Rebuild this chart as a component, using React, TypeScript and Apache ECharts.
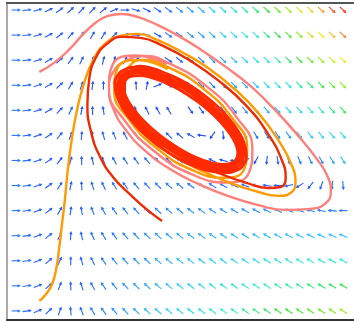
import React, { useEffect, useRef } from "react";
import * as echarts from "echarts";

// Grid of the direction field (x columns, y rows)
const fieldX = [0, 0.1, 0.2, 0.3, 0.4, 0.5, 0.6, 0.7, 0.8, 0.9, 1, 1.1, 1.2, 1.3, 1.4, 1.5, 1.6, 1.7, 1.8, 1.9, 2, 2.1, 2.2, 2.3, 2.4, 2.5, 2.6, 2.7, 2.8, 2.9, 3];
const fieldY = [0, 0.25, 0.5, 0.75, 1, 1.25, 1.5, 1.75, 2, 2.25, 2.5, 2.75, 3];

// x-component of the field, one row per fieldY value
const fieldU = [
  [1.5, 1.18, 0.87, 0.55, 0.24, -0.08, -0.4, -0.71, -1.03, -1.34, -1.66, -1.98, -2.29, -2.61, -2.92, -3.24, -3.56, -3.87, -4.19, -4.5, -4.82, -5.14, -5.45, -5.77, -6.08, -6.4, -6.72, -7.03, -7.35, -7.66, -7.98],
  [1.5, 1.19, 0.88, 0.57, 0.26, -0.03, -0.33, -0.62, -0.91, -1.2, -1.48, -1.76, -2.03, -2.3, -2.57, -2.84, -3.1, -3.35, -3.6, -3.85, -4.1, -4.34, -4.58, -4.82, -5.05, -5.28, -5.5, -5.72, -5.94, -6.15, -6.36],
  [1.5, 1.19, 0.88, 0.58, 0.29, 0.01, -0.27, -0.54, -0.8, -1.05, -1.3, -1.54, -1.77, -2, -2.22, -2.43, -2.63, -2.83, -3.02, -3.2, -3.38, -3.55, -3.71, -3.86, -4.01, -4.15, -4.28, -4.41, -4.53, -4.64, -4.74],
  [1.5, 1.19, 0.89, 0.6, 0.32, 0.06, -0.2, -0.45, -0.68, -0.91, -1.12, -1.32, -1.51, -1.7, -1.87, -2.02, -2.17, -2.31, -2.44, -2.55, -2.66, -2.75, -2.84, -2.91, -2.97, -3.02, -3.07, -3.1, -3.11, -3.12, -3.12],
  [1.5, 1.19, 0.9, 0.62, 0.35, 0.1, -0.14, -0.36, -0.57, -0.76, -0.94, -1.1, -1.26, -1.39, -1.51, -1.62, -1.71, -1.79, -1.86, -1.9, -1.94, -1.96, -1.97, -1.96, -1.94, -1.9, -1.85, -1.78, -1.7, -1.61, -1.5],
  [1.5, 1.19, 0.9, 0.63, 0.38, 0.15, -0.07, -0.27, -0.45, -0.62, -0.76, -0.89, -1, -1.09, -1.16, -1.22, -1.25, -1.27, -1.27, -1.26, -1.22, -1.17, -1.1, -1.01, -0.9, -0.78, -0.63, -0.47, -0.29, -0.1, 0.12],
  [1.5, 1.19, 0.91, 0.65, 0.41, 0.19, -0.01, -0.18, -0.34, -0.47, -0.58, -0.67, -0.74, -0.78, -0.81, -0.81, -0.79, -0.75, -0.69, -0.61, -0.5, -0.37, -0.22, -0.05, 0.14, 0.35, 0.58, 0.84, 1.12, 1.42, 1.74],
  [1.5, 1.2, 0.92, 0.67, 0.44, 0.24, 0.06, -0.09, -0.22, -0.32, -0.4, -0.45, -0.48, -0.48, -0.45, -0.4, -0.33, -0.23, -0.11, 0.04, 0.22, 0.42, 0.65, 0.9, 1.17, 1.48, 1.8, 2.15, 2.53, 2.93, 3.36],
  [1.5, 1.2, 0.93, 0.68, 0.47, 0.28, 0.12, -0.01, -0.11, -0.18, -0.22, -0.23, -0.22, -0.17, -0.1, 0, 0.13, 0.29, 0.48, 0.69, 0.94, 1.21, 1.52, 1.85, 2.21, 2.6, 3.02, 3.47, 3.94, 4.45, 4.98],
  [1.5, 1.2, 0.93, 0.7, 0.5, 0.33, 0.19, 0.08, 0.01, -0.03, -0.04, -0.02, 0.04, 0.13, 0.25, 0.41, 0.59, 0.81, 1.06, 1.34, 1.66, 2.01, 2.39, 2.8, 3.25, 3.73, 4.24, 4.78, 5.35, 5.96, 6.6],
  [1.5, 1.2, 0.94, 0.71, 0.52, 0.37, 0.25, 0.17, 0.12, 0.11, 0.14, 0.2, 0.3, 0.43, 0.6, 0.81, 1.05, 1.33, 1.64, 1.99, 2.38, 2.8, 3.26, 3.75, 4.28, 4.85, 5.45, 6.09, 6.76, 7.47, 8.22],
  [1.5, 1.2, 0.95, 0.73, 0.55, 0.42, 0.32, 0.26, 0.24, 0.26, 0.32, 0.42, 0.56, 0.74, 0.96, 1.22, 1.51, 1.85, 2.23, 2.64, 3.1, 3.6, 4.13, 4.71, 5.32, 5.98, 6.67, 7.4, 8.18, 8.99, 9.84],
  [1.5, 1.21, 0.95, 0.75, 0.58, 0.46, 0.38, 0.35, 0.35, 0.41, 0.5, 0.64, 0.82, 1.04, 1.31, 1.62, 1.97, 2.37, 2.81, 3.29, 3.82, 4.39, 5, 5.66, 6.36, 7.1, 7.89, 8.71, 9.59, 10.5, 11.46],
];

// y-component of the field, one row per fieldY value
const fieldV = [
  [0, 0.19, 0.38, 0.58, 0.77, 0.96, 1.15, 1.34, 1.54, 1.73, 1.92, 2.11, 2.3, 2.5, 2.69, 2.88, 3.07, 3.26, 3.46, 3.65, 3.84, 4.03, 4.22, 4.42, 4.61, 4.8, 4.99, 5.18, 5.38, 5.57, 5.76],
  [0, 0.19, 0.38, 0.56, 0.74, 0.92, 1.09, 1.27, 1.43, 1.6, 1.76, 1.92, 2.07, 2.23, 2.37, 2.52, 2.66, 2.8, 2.94, 3.07, 3.2, 3.33, 3.45, 3.57, 3.69, 3.8, 3.91, 4.02, 4.12, 4.22, 4.32],
  [0, 0.19, 0.37, 0.55, 0.72, 0.88, 1.04, 1.19, 1.33, 1.47, 1.6, 1.72, 1.84, 1.96, 2.06, 2.16, 2.25, 2.34, 2.42, 2.49, 2.56, 2.62, 2.68, 2.72, 2.76, 2.8, 2.83, 2.85, 2.87, 2.88, 2.88],
  [0, 0.19, 0.36, 0.53, 0.69, 0.84, 0.98, 1.11, 1.23, 1.34, 1.44, 1.53, 1.61, 1.68, 1.75, 1.8, 1.84, 1.88, 1.9, 1.92, 1.92, 1.92, 1.9, 1.88, 1.84, 1.8, 1.75, 1.68, 1.61, 1.53, 1.44],
  [0, 0.19, 0.36, 0.52, 0.67, 0.8, 0.92, 1.03, 1.13, 1.21, 1.28, 1.34, 1.38, 1.41, 1.43, 1.44, 1.43, 1.41, 1.38, 1.34, 1.28, 1.21, 1.13, 1.03, 0.92, 0.8, 0.67, 0.52, 0.36, 0.19, 0],
  [0, 0.18, 0.35, 0.5, 0.64, 0.76, 0.86, 0.95, 1.02, 1.08, 1.12, 1.14, 1.15, 1.14, 1.12, 1.08, 1.02, 0.95, 0.86, 0.76, 0.64, 0.5, 0.35, 0.18, 0, -0.2, -0.42, -0.65, -0.9, -1.16, -1.44],
  [0, 0.18, 0.35, 0.49, 0.61, 0.72, 0.81, 0.87, 0.92, 0.95, 0.96, 0.95, 0.92, 0.87, 0.81, 0.72, 0.61, 0.49, 0.35, 0.18, 0, -0.2, -0.42, -0.66, -0.92, -1.2, -1.5, -1.81, -2.15, -2.51, -2.88],
  [0, 0.18, 0.34, 0.48, 0.59, 0.68, 0.75, 0.8, 0.82, 0.82, 0.8, 0.76, 0.69, 0.6, 0.49, 0.36, 0.2, 0.03, -0.17, -0.4, -0.64, -0.91, -1.2, -1.51, -1.84, -2.2, -2.58, -2.98, -3.4, -3.85, -4.32],
  [0, 0.18, 0.33, 0.46, 0.56, 0.64, 0.69, 0.72, 0.72, 0.69, 0.64, 0.56, 0.46, 0.33, 0.18, 0, -0.2, -0.44, -0.69, -0.97, -1.28, -1.61, -1.97, -2.36, -2.76, -3.2, -3.66, -4.15, -4.66, -5.2, -5.76],
  [0, 0.18, 0.33, 0.45, 0.54, 0.6, 0.63, 0.64, 0.61, 0.56, 0.48, 0.37, 0.23, 0.06, -0.13, -0.36, -0.61, -0.9, -1.21, -1.55, -1.92, -2.32, -2.75, -3.2, -3.69, -4.2, -4.74, -5.31, -5.91, -6.54, -7.2],
  [0, 0.18, 0.32, 0.43, 0.51, 0.56, 0.58, 0.56, 0.51, 0.43, 0.32, 0.18, 0, -0.21, -0.45, -0.72, -1.02, -1.36, -1.73, -2.13, -2.56, -3.02, -3.52, -4.05, -4.61, -5.2, -5.82, -6.48, -7.17, -7.89, -8.64],
  [0, 0.17, 0.31, 0.42, 0.49, 0.52, 0.52, 0.48, 0.41, 0.3, 0.16, -0.02, -0.23, -0.48, -0.76, -1.08, -1.43, -1.82, -2.25, -2.71, -3.2, -3.73, -4.29, -4.89, -5.53, -6.2, -6.91, -7.65, -8.42, -9.23, -10.08],
  [0, 0.17, 0.31, 0.4, 0.46, 0.48, 0.46, 0.4, 0.31, 0.17, 0, -0.21, -0.46, -0.75, -1.08, -1.44, -1.84, -2.28, -2.76, -3.28, -3.84, -4.44, -5.07, -5.74, -6.45, -7.2, -7.99, -8.81, -9.68, -10.58, -11.52],
];

// Trajectories
const pinkPath = [
  [0.212, 2.383], [0.347, 2.473], [0.482, 2.602], [0.608, 2.752], [0.725, 2.871], [0.842, 2.941], [0.968, 2.961],
  [1.113, 2.931], [1.275, 2.861], [1.473, 2.752], [1.698, 2.602], [1.923, 2.433], [2.149, 2.243], [2.374, 2.004],
  [2.581, 1.755], [2.752, 1.525], [2.86, 1.336], [2.887, 1.186], [2.833, 1.067], [2.698, 1.017], [2.482, 1.007],
  [2.212, 1.057], [1.941, 1.147], [1.671, 1.266], [1.41, 1.416], [1.185, 1.595], [1.005, 1.805], [0.887, 2.024],
  [0.851, 2.223], [0.896, 2.393], [1.005, 2.493], [1.167, 2.542], [1.399, 2.47], [1.742, 2.244], [2.023, 1.93],
  [2.167, 1.611], [2.134, 1.374], [1.933, 1.281], [1.619, 1.358], [1.276, 1.584], [0.995, 1.898], [0.851, 2.217],
  [0.884, 2.454], [1.085, 2.547], [1.38, 2.46],
];

const orangePath = [
  [0.212, 0.1], [0.275, 0.169], [0.329, 0.269], [0.365, 0.409], [0.392, 0.608], [0.419, 0.857], [0.446, 1.107],
  [0.473, 1.406], [0.509, 1.705], [0.554, 1.984], [0.626, 2.283], [0.716, 2.522], [0.824, 2.672], [0.95, 2.742],
  [1.113, 2.762], [1.293, 2.702], [1.518, 2.582], [1.761, 2.423], [2.014, 2.203], [2.23, 1.964], [2.41, 1.695],
  [2.527, 1.456], [2.563, 1.286], [2.518, 1.176], [2.41, 1.147], [2.221, 1.186], [1.986, 1.266], [1.725, 1.386],
  [1.473, 1.525], [1.248, 1.695], [1.077, 1.894], [0.977, 2.104], [0.959, 2.283], [1.023, 2.423], [1.149, 2.502],
  [1.401, 2.425], [1.72, 2.213], [1.983, 1.921], [2.119, 1.628], [2.091, 1.411], [1.907, 1.328], [1.617, 1.403],
  [1.298, 1.615], [1.035, 1.907], [0.899, 2.2], [0.927, 2.417], [1.111, 2.5], [1.39, 2.41],
];

const redPath = [
  [1.338, 0.897], [1.203, 1.007], [1.05, 1.157], [0.887, 1.336], [0.77, 1.535], [0.689, 1.775], [0.653, 2.054],
  [0.671, 2.323], [0.734, 2.532], [0.833, 2.662], [0.968, 2.732], [1.14, 2.722], [1.347, 2.642], [1.599, 2.493],
  [1.86, 2.293], [2.113, 2.044], [2.311, 1.765], [2.437, 1.505], [2.473, 1.326], [2.428, 1.236], [2.311, 1.226],
  [2.113, 1.276], [1.878, 1.366], [1.635, 1.486], [1.401, 1.635], [1.203, 1.815], [1.059, 2.024], [0.995, 2.213],
  [1.032, 2.363], [1.131, 2.443], [1.373, 2.368],
];

// The dense band the trajectories wind onto (four turns)
const bandPath = [
  [1.373, 2.368], [1.53, 2.289], [1.685, 2.182], [1.828, 2.057], [1.949, 1.922], [2.04, 1.786], [2.096, 1.657], [2.111, 1.545],
  [2.085, 1.458], [2.019, 1.401], [1.92, 1.379], [1.792, 1.392], [1.645, 1.44], [1.488, 1.519], [1.333, 1.626], [1.19, 1.751],
  [1.069, 1.886], [0.978, 2.022], [0.922, 2.151], [0.907, 2.263], [0.933, 2.35], [0.999, 2.407], [1.098, 2.429], [1.226, 2.416],
  [1.371, 2.338], [1.521, 2.259], [1.669, 2.157], [1.807, 2.037], [1.925, 1.908], [2.014, 1.78], [2.069, 1.659], [2.085, 1.556],
  [2.063, 1.475], [2.003, 1.424], [1.909, 1.405], [1.788, 1.422], [1.647, 1.47], [1.497, 1.549], [1.349, 1.651], [1.211, 1.771],
  [1.093, 1.9], [1.004, 2.028], [0.949, 2.149], [0.933, 2.252], [0.955, 2.333], [1.015, 2.384], [1.109, 2.403], [1.23, 2.386],
  [1.369, 2.308], [1.511, 2.232], [1.654, 2.133], [1.787, 2.018], [1.901, 1.896], [1.987, 1.775], [2.042, 1.662], [2.06, 1.565],
  [2.04, 1.492], [1.984, 1.447], [1.896, 1.432], [1.781, 1.451], [1.649, 1.5], [1.507, 1.576], [1.364, 1.675], [1.231, 1.79],
  [1.117, 1.912], [1.031, 2.033], [0.976, 2.146], [0.958, 2.243], [0.978, 2.316], [1.034, 2.361], [1.122, 2.376], [1.237, 2.357],
  [1.366, 2.279], [1.502, 2.203], [1.638, 2.108], [1.766, 1.999], [1.876, 1.883], [1.96, 1.769], [2.015, 1.664], [2.034, 1.575],
  [2.018, 1.509], [1.968, 1.469], [1.885, 1.46], [1.778, 1.481], [1.652, 1.529], [1.516, 1.605], [1.38, 1.7], [1.252, 1.809],
  [1.142, 1.925], [1.058, 2.039], [1.003, 2.144], [0.984, 2.233], [1.0, 2.299], [1.05, 2.339], [1.133, 2.348], [1.24, 2.327],
  [1.366, 2.279],
];

const speedColors = ["#2040ff", "#2a86ff", "#30d0ff", "#30f0c8", "#30e848", "#90f020", "#f0f020", "#ffa030", "#ff3020"];

export default function App() {
  const ref = useRef<HTMLDivElement>(null);
  useEffect(() => {
    if (!ref.current) return;
    const chart = echarts.init(ref.current, null, { renderer: "svg" });
    const arrows: number[][] = [];
    fieldY.forEach((y, j) => {
      fieldX.forEach((x, i) => {
        const u = fieldU[j][i];
        const v = fieldV[j][i];
        arrows.push([x, y, u, v, Math.hypot(u, v)]);
      });
    });
    const axisOff = { axisLabel: { show: false }, axisTick: { show: false }, splitLine: { show: false } };
    const lineSeries = (data: number[][], color: string, width: number, z: number) => ({
      type: "line",
      data,
      smooth: true,
      showSymbol: false,
      symbol: "none",
      z,
      lineStyle: { color, width },
      silent: true,
    });
    chart.setOption({
      animation: false,
      grid: { left: 7, top: 2.5, width: 353.5, height: 317.5, containLabel: false },
      xAxis: [
        { type: "value", min: -0.085, max: 3.1, position: "bottom", axisLine: { show: true, onZero: false, lineStyle: { color: "#333", width: 2 } }, ...axisOff },
        { type: "value", min: -0.085, max: 3.1, position: "top", axisLine: { show: true, onZero: false, lineStyle: { color: "#555", width: 2 } }, ...axisOff },
      ],
      yAxis: { type: "value", min: -0.0905, max: 3.075, axisLine: { show: true, onZero: false, lineStyle: { color: "#aaa", width: 2 } }, ...axisOff },
      visualMap: {
        show: false,
        type: "continuous",
        seriesIndex: 0,
        dimension: 4,
        min: 0,
        max: 15.5,
        inRange: { color: speedColors },
      },
      series: [
        {
          type: "custom",
          data: arrows,
          encode: { x: 0, y: 1 },
          z: 1,
          silent: true,
          renderItem: (params: any, api: any) => {
            const x = api.value(0);
            const y = api.value(1);
            const u = api.value(2);
            const v = api.value(3);
            if (Math.hypot(u, v) < 1e-6) return null;
            const c = api.coord([x, y]);
            const s = api.size([1, 1]);
            let ux = u * s[0];
            let uy = -v * s[1];
            const n = Math.hypot(ux, uy);
            ux /= n;
            uy /= n;
            const half = 4.6;
            const hl = 3.2;
            const hw = 1.7;
            const tx = c[0] - ux * half;
            const ty = c[1] - uy * half;
            const px = c[0] + ux * half;
            const py = c[1] + uy * half;
            const bx = px - ux * hl;
            const by = py - uy * hl;
            const color = api.visual("color");
            return {
              type: "group",
              children: [
                { type: "line", shape: { x1: tx, y1: ty, x2: bx + ux * 0.8, y2: by + uy * 0.8 }, style: { stroke: color, lineWidth: 1.1 } },
                { type: "polygon", shape: { points: [[px, py], [bx - uy * hw, by + ux * hw], [bx + uy * hw, by - ux * hw]] }, style: { fill: color } },
              ],
            };
          },
        },
        lineSeries(pinkPath, "#ff7f7a", 2.4, 3),
        lineSeries(orangePath, "#ff9a00", 2.4, 4),
        lineSeries(redPath, "#ee2a00", 2.4, 5),
        lineSeries(bandPath, "#ff2a00", 3.0, 5),
      ],
    });
    return () => chart.dispose();
  }, []);
  return <div ref={ref} style={{ position: "fixed", left: 0, top: 0, width: 354, height: 322 }} />;
}
